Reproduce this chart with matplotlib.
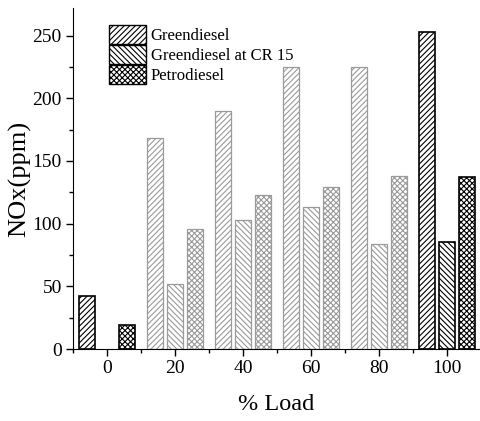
import numpy as np
import matplotlib
matplotlib.use("Agg")
import matplotlib.pyplot as plt
from matplotlib.patches import Patch
from matplotlib.ticker import MultipleLocator

plt.rcParams['font.family'] = ['Liberation Serif', 'DejaVu Serif']
plt.rcParams['hatch.linewidth'] = 0.8

loads = [0, 20, 40, 60, 80, 100]
green = [42, 168, 190, 225, 225, 253]
green_cr15 = [np.nan, 52, 103, 113, 84, 85]
petro = [19, 96, 123, 129, 138, 137]
series_names = ["Greendiesel", "Greendiesel at CR 15", "Petrodiesel"]

fig = plt.figure(figsize=(4.8, 4.21), dpi=100)
ax = fig.add_axes([0.152, 0.171, 0.848, 0.81])

hatches = ['//////', '\\\\\\\\\\\\', 'xxxxxx']
offsets = [-5.8, 0.0, 5.8]
width = 4.8
dark = {0, 100}
for s, (vals, h, off) in enumerate(zip([green, green_cr15, petro], hatches, offsets)):
    for x, v in zip(loads, vals):
        if np.isnan(v):
            continue
        ec = 'black' if x in dark else '#9a9a9a'
        lw = 1.2 if x in dark else 0.9
        ax.bar(x + off, v, width=width, color='white', edgecolor=ec,
               hatch=h, linewidth=lw)

ax.set_xlim(-10, 109.7)
ax.set_ylim(0, 272)
ax.spines['top'].set_visible(False)
ax.spines['right'].set_visible(False)
ax.set_xticks(loads)
ax.xaxis.set_minor_locator(MultipleLocator(10))
ax.yaxis.set_major_locator(MultipleLocator(50))
ax.yaxis.set_minor_locator(MultipleLocator(25))
ax.tick_params(which='major', length=5, width=1, labelsize=14, pad=3)
ax.tick_params(which='minor', length=3, width=1)
ax.set_xlabel('% Load', fontsize=17.5, labelpad=12)
ax.set_ylabel('NOx(ppm)', fontsize=19, labelpad=1)

handles = [Patch(facecolor='white', edgecolor='black', hatch=h, linewidth=1)
           for h in hatches]
ax.legend(handles, series_names, loc='upper left', bbox_to_anchor=(0.072, 0.97),
          frameon=False, fontsize=12, handlelength=2.2, handleheight=1.4,
          labelspacing=0.05, handletextpad=0.3, borderaxespad=0)

fig.savefig('out.png', dpi=100)
